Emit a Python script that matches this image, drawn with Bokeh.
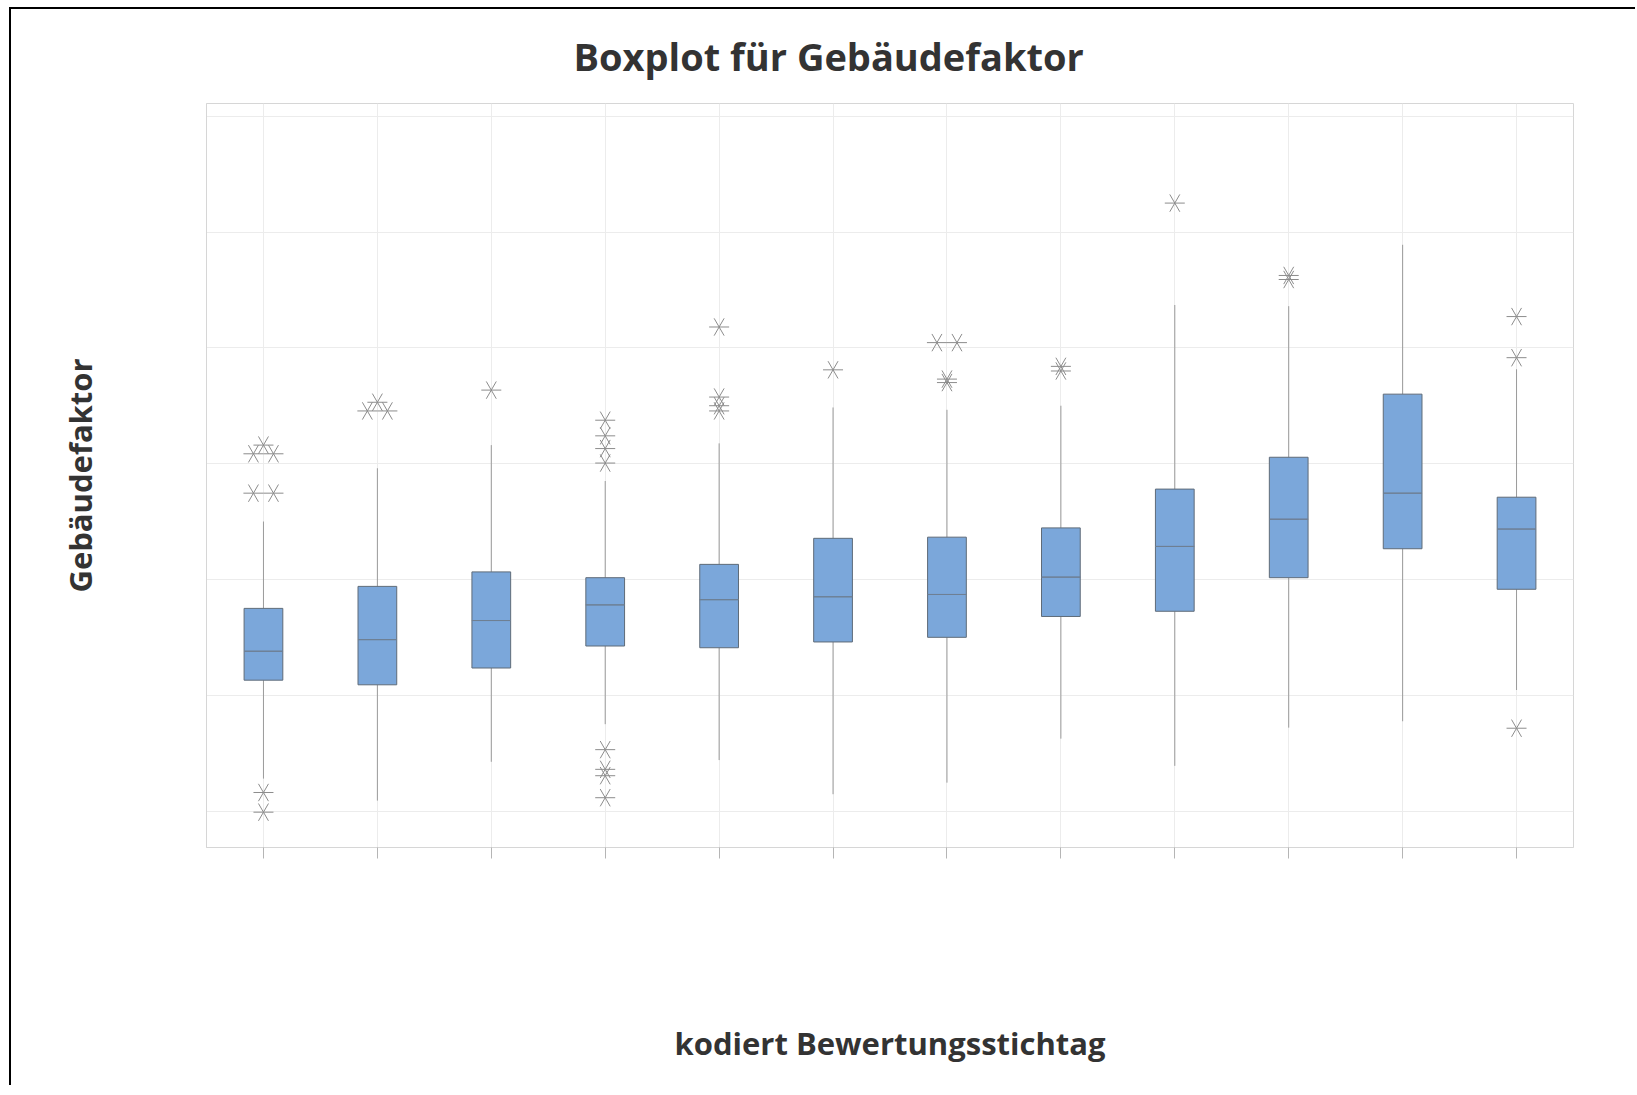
from bokeh.plotting import figure
from bokeh.models import FixedTicker, Title, ColumnDataSource
from bokeh.embed import file_html
from bokeh.resources import INLINE
import numpy as np

# ---- data (y values in arbitrary chart units) ----
groups = [1, 2, 3, 4, 5, 6, 7, 8, 9, 10, 11, 12]
q1 = [0.626, 0.618, 0.647, 0.685, 0.682, 0.692, 0.700, 0.736, 0.745, 0.803, 0.853, 0.783]
median = [0.676, 0.696, 0.729, 0.756, 0.765, 0.770, 0.774, 0.804, 0.857, 0.904, 0.949, 0.887]
q3 = [0.750, 0.788, 0.813, 0.803, 0.826, 0.871, 0.873, 0.889, 0.956, 1.011, 1.120, 0.942]
whisker_hi = [0.900, 0.992, 1.032, 0.970, 1.035, 1.097, 1.093, 1.100, 1.274, 1.272, 1.378, 1.163]
whisker_lo = [0.456, 0.418, 0.485, 0.550, 0.488, 0.429, 0.449, 0.525, 0.478, 0.544, 0.555, 0.609]

outlier_group = [1, 1, 1, 1, 1, 1, 1,
                 2, 2, 2,
                 3,
                 4, 4, 4, 4, 4, 4, 4, 4,
                 5, 5, 5, 5,
                 6,
                 7, 7, 7, 7,
                 8, 8,
                 9,
                 10, 10,
                 12, 12, 12]
outlier_value = [1.032, 1.017, 1.017, 0.949, 0.949, 0.432, 0.398,
                 1.106, 1.091, 1.091,
                 1.127,
                 1.075, 1.048, 1.026, 1.001, 0.506, 0.472, 0.461, 0.423,
                 1.236, 1.115, 1.100, 1.091,
                 1.162,
                 1.209, 1.209, 1.146, 1.140,
                 1.168, 1.160,
                 1.450,
                 1.325, 1.318,
                 1.254, 1.183, 0.543]

title_text = "Boxplot für Gebäudefaktor"
x_label = "kodiert Bewertungsstichtag"
y_label = "Gebäudefaktor"

# ---- dodge tied outliers side by side (as the reference does) ----
ox = []
for g, v in zip(outlier_group, outlier_value):
    ties = [i for i, (g2, v2) in enumerate(zip(outlier_group, outlier_value)) if g2 == g and v2 == v]
    n = len(ties)
    k = sum(1 for i in ties if i < len(ox))
    ox.append(g + (k - (n - 1) / 2) * 0.176)

W, H = 1626, 1078
p = figure(width=W, height=H, output_backend="svg", toolbar_location=None,
           x_range=(0.5, 12.5), y_range=(0.337, 1.622),
           min_border_left=195, min_border_right=64, min_border_top=94, min_border_bottom=240)
p.styles = {"border-left": "2px solid black", "border-top": "2px solid black",
            "margin-left": "9px", "margin-top": "7px"}

p.add_layout(Title(text=title_text, align="left", vertical_align="top", text_font="Open Sans",
                   text_font_size="38px", text_font_style="bold", text_color="#333333",
                   offset=367, standoff=40), "above")

p.background_fill_color = "white"
p.border_fill_color = "white"
p.outline_line_color = "#d6d6d6"
p.outline_line_width = 1

# grids
p.xaxis.ticker = FixedTicker(ticks=groups)
p.yaxis.ticker = FixedTicker(ticks=[0.4, 0.6, 0.8, 1.0, 1.2, 1.4, 1.6])
p.xgrid.grid_line_color = "#ececec"
p.ygrid.grid_line_color = "#ececec"

# axes
p.xaxis.axis_line_color = "#d6d6d6"
p.xaxis.major_tick_line_color = "#b5b5b5"
p.xaxis.major_tick_out = 11
p.xaxis.major_tick_in = 0
p.xaxis.minor_tick_line_color = None
p.xaxis.major_label_text_font_size = "0px"
p.xaxis.major_label_text_color = None
p.xaxis.axis_label = x_label
p.xaxis.axis_label_text_font = "Open Sans"
p.xaxis.axis_label_text_font_size = "31px"
p.xaxis.axis_label_text_font_style = "bold"
p.xaxis.axis_label_text_color = "#333333"
p.xaxis.axis_label_standoff = 163

p.yaxis.axis_line_color = "#d6d6d6"
p.yaxis.major_tick_line_color = None
p.yaxis.minor_tick_line_color = None
p.yaxis.major_label_text_font_size = "0px"
p.yaxis.major_label_text_color = None
p.yaxis.axis_label = y_label
p.yaxis.axis_label_text_font = "Open Sans"
p.yaxis.axis_label_text_font_size = "31px"
p.yaxis.axis_label_text_font_style = "bold"
p.yaxis.axis_label_text_color = "#333333"
p.yaxis.axis_label_standoff = 100

# whiskers
src = ColumnDataSource(dict(x=groups, q1=q1, med=median, q3=q3, hi=whisker_hi, lo=whisker_lo))
p.segment(x0="x", y0="q3", x1="x", y1="hi", source=src, line_color="#9a9a9a", line_width=1)
p.segment(x0="x", y0="q1", x1="x", y1="lo", source=src, line_color="#9a9a9a", line_width=1)

# boxes
p.vbar(x="x", width=0.34, bottom="q1", top="q3", source=src,
       fill_color="#7ba7da", line_color="#5f6b78", line_width=1)
p.rect(x="x", y="med", width=0.34, height=0.0001, source=src,
       fill_color=None, line_color="#6e7f93", line_width=1)

# outliers: six-armed asterisk made of three rotated dashes
osrc = ColumnDataSource(dict(x=ox, y=outlier_value))
for ang in (0, np.pi / 3, 2 * np.pi / 3):
    p.scatter(x="x", y="y", source=osrc, marker="dash", size=20, angle=ang,
              line_color="#8c8c8c", line_width=1, fill_color=None)

open("out.html", "w").write(file_html(p, INLINE))
